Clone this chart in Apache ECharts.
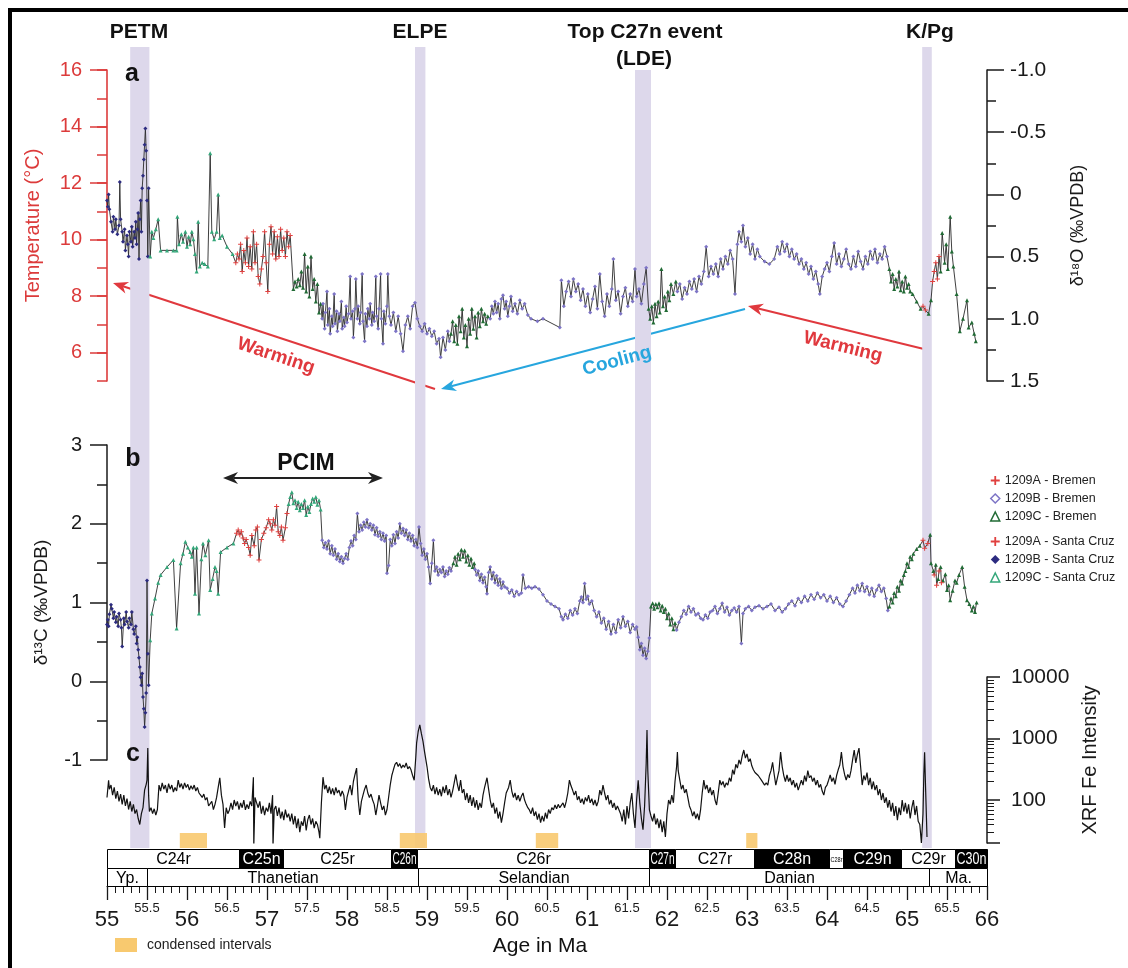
<!DOCTYPE html>
<html><head><meta charset="utf-8">
<script src="https://cdn.jsdelivr.net/npm/echarts@6/dist/echarts.min.js"></script>
<style>html,body{margin:0;padding:0;background:#fff}#c{width:1128px;height:968px}</style>
</head><body><div id="c"></div>
<script>
// ---------------- DATA ----------------
// Panel a: benthic δ18O (‰VPDB) by hole / lab  [age Ma, value]
const o18_BSC = [[55.00,0.05],[55.01,0.10],[55.02,0.00],[55.03,0.12],[55.05,0.22],[55.07,0.30],[55.08,0.18],[55.10,0.28],[55.11,0.20],[55.13,0.32],[55.15,0.25],[55.16,-0.10],[55.17,0.20],[55.19,0.30],[55.20,0.38],[55.22,0.28],[55.23,0.45],[55.25,0.33],[55.26,0.40],[55.27,0.50],[55.28,0.30],[55.30,0.38],[55.31,0.26],[55.32,0.42],[55.34,0.30],[55.35,0.35],[55.36,0.22],[55.37,0.40],[55.38,0.28],[55.39,0.15],[55.40,0.52],[55.41,0.20],[55.42,0.05],[55.43,0.30],[55.44,-0.05],[55.45,-0.15],[55.46,-0.28],[55.47,-0.40],[55.48,-0.53],[55.49,-0.35],[55.50,0.05],[55.51,0.50],[55.52,-0.05]];
const o18_CSC = [[55.54,0.50],[55.56,0.30],[55.58,0.35],[55.61,0.28],[55.64,0.20],[55.67,0.45],[55.75,0.45],[55.83,0.45],[55.87,0.45],[55.88,0.18],[55.90,0.40],[55.93,0.32],[55.95,0.38],[55.98,0.30],[56.00,0.42],[56.02,0.34],[56.04,0.40],[56.06,0.30],[56.08,0.36],[56.10,0.48],[56.12,0.62],[56.14,0.22],[56.16,0.58],[56.19,0.55],[56.22,0.56],[56.26,0.58],[56.29,-0.33],[56.31,0.30],[56.34,0.36],[56.37,0.30],[56.39,0.00],[56.41,0.35],[56.44,0.33],[56.50,0.42],[56.57,0.48]];
const o18_ASC = [[56.61,0.55],[56.63,0.48],[56.65,0.52],[56.67,0.40],[56.69,0.62],[56.71,0.45],[56.73,0.55],[56.75,0.35],[56.77,0.58],[56.79,0.42],[56.81,0.60],[56.83,0.30],[56.85,0.55],[56.87,0.40],[56.89,0.66],[56.91,0.72],[56.93,0.60],[56.95,0.50],[56.97,0.30],[56.99,0.55],[57.01,0.78],[57.03,0.40],[57.05,0.26],[57.07,0.48],[57.09,0.30],[57.11,0.52],[57.13,0.34],[57.15,0.50],[57.17,0.28],[57.19,0.45],[57.21,0.35],[57.23,0.50],[57.25,0.30],[57.27,0.42],[57.29,0.33]];
const o18_CB = [[57.33,0.76],[57.35,0.70],[57.37,0.74],[57.39,0.68],[57.41,0.73],[57.43,0.62],[57.45,0.75],[57.47,0.48],[57.49,0.78],[57.51,0.58],[57.53,0.82],[57.55,0.50],[57.57,0.76],[57.59,0.68],[57.61,0.86],[57.63,0.72],[57.65,0.95],[57.67,0.88],
 [59.30,1.12],[59.32,1.02],[59.34,1.18],[59.36,1.05],[59.38,1.20],[59.40,0.98],[59.42,1.10],[59.44,0.92],[59.46,1.15],[59.48,1.05],[59.50,1.22],[59.52,1.00],[59.54,1.12],[59.56,0.92],[59.58,1.08],[59.60,0.98],[59.62,1.15],[59.64,0.95],[59.66,1.06],[59.68,0.92],[59.70,1.02],[59.72,0.96],[59.74,1.04],[59.76,0.98],
 [61.77,0.92],[61.79,1.00],[61.81,0.90],[61.83,1.03],[61.85,0.88],[61.87,0.98],[61.89,0.86],[61.91,0.95],[61.93,0.60],[61.95,0.90],[61.97,0.82],[61.99,0.93],[62.01,0.78],[62.03,0.85],[62.05,0.72],[62.08,0.80],[62.11,0.70],
 [64.78,0.60],[64.80,0.70],[64.82,0.64],[64.84,0.76],[64.86,0.68],[64.88,0.74],[64.90,0.62],[64.92,0.77],[64.94,0.70],[64.96,0.78],[64.98,0.66],[65.00,0.75],[65.02,0.72],[65.04,0.78],[65.07,0.80],[65.12,0.86],[65.17,0.92],
 [65.27,0.96],[65.30,0.85],[65.42,0.62],[65.44,0.31],[65.47,0.55],[65.49,0.40],[65.51,0.60],[65.54,0.18],[65.56,0.46],[65.58,0.58],[65.62,0.80],[65.66,1.10],[65.70,1.00],[65.75,0.85],[65.77,1.07],[65.81,1.03],[65.84,1.12],[65.86,1.18]];
const o18_AB = [[65.20,0.90],[65.23,0.93],[65.32,0.70],[65.34,0.62],[65.36,0.55],[65.38,0.68],[65.40,0.50]];
const o18_BB = [[57.69,1.00],[57.70,0.88],[57.72,1.08],[57.73,0.95],[57.75,0.78],[57.76,1.05],[57.78,0.92],[57.79,1.12],[57.81,0.98],[57.82,1.06],[57.84,0.80],[57.85,1.04],[57.87,0.94],[57.88,1.10],[57.90,0.96],[57.91,1.02],[57.93,0.86],[57.94,1.08],[57.96,0.99],[57.97,1.06],[57.99,0.90],[58.00,1.03],[58.02,0.96],[58.04,0.66],[58.05,1.00],[58.07,0.94],[58.08,1.15],[58.10,0.92],[58.11,0.68],[58.13,1.00],[58.14,0.90],[58.16,1.04],[58.17,0.95],[58.19,0.64],[58.20,1.02],[58.22,1.18],[58.23,0.96],[58.25,1.06],[58.26,0.92],[58.28,1.00],[58.29,0.88],[58.31,1.05],[58.32,0.95],[58.34,1.02],[58.36,0.66],[58.37,0.98],[58.39,1.08],[58.40,0.92],[58.42,0.64],[58.43,1.00],[58.45,1.20],[58.46,0.94],[58.48,1.04],[58.50,0.90],[58.51,0.64],[58.53,0.98],[58.55,1.05],[58.58,0.95],[58.61,1.10],[58.64,0.98],[58.67,1.12],[58.70,1.26],[58.73,1.05],[58.76,0.98],[58.79,1.08],[58.82,0.90],[58.85,0.87],[58.88,1.00],[58.91,1.06],[58.94,1.10],[58.97,1.04],[59.00,1.12],[59.03,1.08],[59.06,1.14],[59.09,1.10],[59.12,1.20],[59.15,1.16],[59.17,1.31],[59.20,1.15],[59.23,1.25],[59.26,1.10],[59.28,1.18],
 [59.79,1.00],[59.81,0.90],[59.83,0.96],[59.85,0.86],[59.87,0.95],[59.89,0.88],[59.91,1.00],[59.93,0.84],[59.95,0.81],[59.97,0.92],[59.99,0.86],[60.01,0.98],[60.03,0.90],[60.05,0.82],[60.07,0.94],[60.10,0.88],[60.13,0.96],[60.16,0.85],[60.19,0.92],[60.22,0.88],[60.26,0.97],[60.30,1.00],[60.38,1.02],[60.45,1.00],[60.66,1.07],[60.68,0.69],[60.71,0.90],[60.74,0.78],[60.77,0.70],[60.80,0.82],[60.83,0.68],[60.86,0.78],[60.89,0.72],[60.92,0.85],[60.95,0.76],[60.98,0.90],[61.01,0.80],[61.04,0.95],[61.07,0.84],[61.10,0.74],[61.13,0.92],[61.16,0.64],[61.19,0.86],[61.22,0.98],[61.25,0.80],[61.28,0.90],[61.31,0.76],[61.33,0.52],[61.36,0.85],[61.39,0.78],[61.42,0.96],[61.45,0.82],[61.48,0.75],[61.51,0.90],[61.54,0.80],[61.57,0.86],[61.60,0.60],[61.62,0.82],[61.65,0.76],[61.68,0.88],[61.71,0.72],[61.74,0.59],
 [62.13,0.78],[62.16,0.72],[62.19,0.84],[62.22,0.75],[62.25,0.80],[62.28,0.70],[62.31,0.76],[62.34,0.68],[62.37,0.78],[62.40,0.66],[62.43,0.72],[62.46,0.62],[62.49,0.42],[62.52,0.66],[62.55,0.58],[62.58,0.64],[62.61,0.56],[62.64,0.66],[62.67,0.52],[62.70,0.60],[62.73,0.50],[62.76,0.56],[62.79,0.45],[62.82,0.52],[62.85,0.80],[62.88,0.40],[62.90,0.30],[62.93,0.38],[62.95,0.25],[62.98,0.42],[63.01,0.35],[63.04,0.48],[63.07,0.40],[63.10,0.52],[63.13,0.44],[63.16,0.50],[63.22,0.54],[63.28,0.56],[63.34,0.52],[63.38,0.42],[63.41,0.48],[63.44,0.38],[63.47,0.46],[63.50,0.40],[63.53,0.50],[63.56,0.44],[63.59,0.52],[63.62,0.48],[63.65,0.56],[63.68,0.52],[63.71,0.60],[63.74,0.55],[63.77,0.64],[63.80,0.58],[63.83,0.68],[63.86,0.62],[63.89,0.72],[63.91,0.80],[63.94,0.66],[63.97,0.60],[64.00,0.55],[64.03,0.62],[64.06,0.50],[64.09,0.39],[64.12,0.56],[64.15,0.48],[64.18,0.58],[64.21,0.52],[64.24,0.44],[64.27,0.56],[64.30,0.60],[64.33,0.50],[64.36,0.58],[64.39,0.46],[64.42,0.54],[64.45,0.60],[64.48,0.50],[64.51,0.56],[64.54,0.46],[64.57,0.52],[64.60,0.44],[64.63,0.55],[64.66,0.48],[64.69,0.52],[64.72,0.42],[64.75,0.50]];

// Panel b: benthic δ13C (‰VPDB)
const c13_BSC = [[55.00,0.72],[55.01,0.78],[55.02,0.70],[55.03,0.85],[55.05,0.97],[55.06,0.92],[55.08,0.80],[55.09,0.88],[55.11,0.75],[55.12,0.82],[55.14,0.70],[55.15,0.86],[55.17,0.78],[55.18,0.68],[55.19,0.44],[55.21,0.80],[55.22,0.72],[55.24,0.88],[55.25,0.76],[55.27,0.68],[55.28,0.80],[55.30,0.72],[55.31,0.88],[55.33,0.66],[55.34,0.60],[55.36,0.70],[55.37,0.48],[55.38,0.56],[55.39,0.40],[55.40,0.30],[55.41,0.18],[55.42,0.05],[55.43,-0.05],[55.44,0.10],[55.45,-0.20],[55.46,-0.35],[55.47,-0.58],[55.48,-0.40],[55.49,-0.15],[55.50,1.28],[55.51,0.35],[55.52,-0.05]];
const c13_CSC = [[55.54,0.52],[55.56,0.86],[55.60,1.05],[55.64,1.25],[55.67,1.35],[55.75,1.45],[55.83,1.54],[55.87,0.67],[55.92,1.50],[55.95,1.62],[55.98,1.77],[56.01,1.70],[56.04,1.64],[56.06,1.58],[56.08,1.70],[56.10,1.11],[56.12,1.70],[56.15,0.86],[56.18,1.55],[56.20,1.75],[56.23,1.60],[56.27,1.79],[56.29,1.16],[56.32,1.30],[56.35,1.45],[56.37,1.40],[56.39,1.11],[56.42,1.64],[56.50,1.70],[56.58,1.75],
 [57.27,2.25],[57.29,2.34],[57.31,2.40],[57.33,2.26],[57.35,2.30],[57.37,2.20],[57.39,2.28],[57.41,2.17],[57.43,2.25],[57.45,2.20],[57.47,2.30],[57.49,2.11],[57.51,2.22],[57.53,2.15],[57.55,2.25],[57.57,2.32],[57.59,2.28],[57.61,2.34],[57.63,2.24],[57.65,2.30],[57.67,2.18]];
const c13_ASC = [[56.62,1.88],[56.64,1.92],[56.66,1.86],[56.68,1.90],[56.70,1.82],[56.72,1.75],[56.74,1.80],[56.77,1.70],[56.79,1.60],[56.81,1.85],[56.84,1.72],[56.86,1.92],[56.88,1.96],[56.90,1.54],[56.93,1.80],[56.96,1.88],[56.99,1.95],[57.02,2.05],[57.04,2.00],[57.06,1.92],[57.08,2.05],[57.10,1.98],[57.12,2.22],[57.14,1.90],[57.16,1.85],[57.18,1.96],[57.20,1.79],[57.23,1.95],[57.25,2.13]];
const c13_CB = [[59.33,1.50],[59.35,1.58],[59.37,1.48],[59.39,1.62],[59.41,1.55],[59.43,1.67],[59.45,1.58],[59.47,1.66],[59.49,1.52],[59.51,1.60],[59.53,1.48],[59.55,1.56],[59.57,1.45],[59.59,1.50],
 [61.80,0.95],[61.82,0.99],[61.84,0.92],[61.86,0.98],[61.88,0.94],[61.90,0.99],[61.92,0.90],[61.94,0.96],[61.96,0.88],[61.98,0.92],[62.00,0.80],[62.02,0.86],[62.04,0.72],[62.06,0.80],[62.08,0.66],[62.10,0.74],
 [64.78,0.95],[64.80,1.05],[64.82,1.00],[64.84,1.12],[64.86,1.08],[64.88,1.20],[64.90,1.15],[64.92,1.28],[64.94,1.24],[64.96,1.35],[64.98,1.40],[65.00,1.50],[65.02,1.45],[65.04,1.58],[65.06,1.55],[65.08,1.62],[65.12,1.68],[65.16,1.72],
 [65.29,1.86],[65.30,1.50],[65.33,1.40],[65.36,1.48],[65.39,1.30],[65.42,1.45],[65.45,1.28],[65.48,1.36],[65.50,1.16],[65.52,1.22],[65.54,1.03],[65.57,1.15],[65.60,1.28],[65.62,1.25],[65.65,1.35],[65.69,1.45],[65.72,1.20],[65.75,1.03],[65.78,0.98],[65.81,0.90],[65.83,0.95],[65.85,0.88],[65.87,1.00]];
const c13_AB = [[65.20,1.79],[65.22,1.69],[65.26,1.75],[65.34,1.35],[65.37,1.22],[65.40,1.40],[65.43,1.25]];
const c13_BB = [[57.69,1.79],[57.71,1.70],[57.73,1.76],[57.75,1.68],[57.77,1.78],[57.79,1.62],[57.81,1.72],[57.83,1.60],[57.85,1.68],[57.87,1.55],[57.89,1.62],[57.91,1.52],[57.93,1.58],[57.95,1.50],[57.97,1.56],[57.99,1.62],[58.01,1.55],[58.03,1.70],[58.05,1.78],[58.07,1.72],[58.09,1.85],[58.11,1.80],[58.13,2.13],[58.15,1.90],[58.17,1.98],[58.19,1.92],[58.21,2.02],[58.23,1.96],[58.25,2.05],[58.27,1.95],[58.29,2.00],[58.31,1.92],[58.33,1.98],[58.35,1.86],[58.37,1.95],[58.39,1.84],[58.41,1.90],[58.43,1.80],[58.45,1.88],[58.47,1.78],[58.49,1.85],[58.50,1.37],[58.52,1.47],[58.54,1.80],[58.56,1.72],[58.58,1.86],[58.60,1.75],[58.62,1.90],[58.64,1.82],[58.66,2.00],[58.68,1.88],[58.70,1.94],[58.72,1.85],[58.74,1.92],[58.76,1.80],[58.78,1.88],[58.80,1.78],[58.82,1.85],[58.84,1.72],[58.86,1.80],[58.88,1.70],[58.90,1.96],[58.92,1.75],[58.94,1.60],[58.96,1.68],[58.98,1.55],[59.00,1.62],[59.02,1.45],[59.04,1.24],[59.06,1.50],[59.08,1.79],[59.10,1.40],[59.12,1.45],[59.14,1.35],[59.16,1.42],[59.18,1.38],[59.20,1.45],[59.22,1.33],[59.24,1.40],[59.26,1.36],[59.28,1.44],[59.30,1.40],
 [59.60,1.42],[59.62,1.35],[59.64,1.40],[59.66,1.28],[59.68,1.36],[59.70,1.25],[59.72,1.32],[59.74,1.20],[59.75,1.11],[59.77,1.38],[59.79,1.45],[59.81,1.30],[59.83,1.38],[59.85,1.25],[59.87,1.34],[59.89,1.22],[59.91,1.30],[59.93,1.18],[59.95,1.26],[59.97,1.20],[60.00,1.18],[60.03,1.12],[60.06,1.16],[60.09,1.08],[60.12,1.14],[60.15,1.10],[60.18,1.12],[60.20,1.35],[60.23,1.18],[60.27,1.20],[60.31,1.18],[60.35,1.20],[60.40,1.17],[60.45,1.10],[60.50,1.02],[60.55,0.98],[60.60,0.95],[60.65,0.92],[60.68,0.82],[60.70,0.78],[60.73,0.85],[60.76,0.80],[60.79,0.90],[60.82,0.84],[60.85,0.92],[60.88,0.86],[60.91,1.02],[60.93,1.07],[60.95,1.00],[60.97,1.24],[60.99,1.04],[61.01,1.08],[61.03,0.98],[61.06,1.02],[61.09,0.90],[61.12,0.82],[61.15,0.88],[61.18,0.74],[61.21,0.80],[61.24,0.66],[61.27,0.76],[61.30,0.60],[61.33,0.72],[61.36,0.62],[61.39,0.78],[61.42,0.68],[61.45,0.82],[61.48,0.70],[61.51,0.76],[61.54,0.62],[61.57,0.72],[61.60,0.66],[61.62,0.69],[61.64,0.56],[61.66,0.40],[61.68,0.48],[61.70,0.33],[61.72,0.42],[61.74,0.29],[61.76,0.38],[61.78,0.55],
 [62.12,0.65],[62.15,0.75],[62.18,0.82],[62.21,0.90],[62.24,0.85],[62.27,0.95],[62.30,0.88],[62.33,0.92],[62.36,0.84],[62.39,0.86],[62.42,0.80],[62.45,0.78],[62.48,0.84],[62.51,0.80],[62.54,0.88],[62.57,0.90],[62.60,0.95],[62.63,0.86],[62.66,0.92],[62.69,0.99],[62.72,0.88],[62.75,0.94],[62.78,0.84],[62.81,0.90],[62.84,0.93],[62.87,0.88],[62.90,0.95],[62.93,0.48],[62.95,0.86],[62.98,0.92],[63.02,0.95],[63.06,0.90],[63.10,0.94],[63.15,0.96],[63.20,0.92],[63.25,0.95],[63.30,0.98],[63.35,0.90],[63.40,0.94],[63.44,0.88],[63.48,0.92],[63.52,0.98],[63.56,1.02],[63.60,0.96],[63.64,1.05],[63.68,1.00],[63.72,1.08],[63.76,1.02],[63.80,1.10],[63.84,1.04],[63.88,1.12],[63.92,1.06],[63.96,1.10],[64.00,1.02],[64.04,1.08],[64.08,1.00],[64.12,1.06],[64.16,0.98],[64.20,0.95],[64.24,1.02],[64.28,1.10],[64.32,1.18],[64.35,1.12],[64.38,1.22],[64.41,1.15],[64.44,1.24],[64.47,1.14],[64.50,1.20],[64.53,1.10],[64.56,1.18],[64.59,1.08],[64.62,1.16],[64.65,1.22],[64.68,1.14],[64.71,1.18],[64.74,1.05],[64.76,0.90]];

// Panel c: XRF Fe intensity (counts)
const xrfFe = [[55.00,110],[55.02,210],[55.03,150],[55.05,175],[55.07,120],[55.09,160],[55.11,105],[55.13,140],[55.15,95],[55.17,125],[55.19,85],[55.21,120],[55.23,80],[55.25,105],[55.27,70],[55.29,95],[55.31,65],[55.33,85],[55.35,60],[55.37,70],[55.39,50],[55.41,40],[55.43,60],[55.45,75],[55.47,145],[55.49,180],[55.50,210],[55.51,700],[55.52,120],[55.53,65],[55.55,75],[55.57,60],[55.59,72],[55.61,57],[55.63,70],[55.65,175],[55.67,140],[55.69,190],[55.71,150],[55.73,175],[55.75,130],[55.77,185],[55.79,150],[55.81,175],[55.83,135],[55.85,160],[55.87,140],[55.89,210],[55.91,160],[55.93,185],[55.95,150],[55.97,190],[55.99,160],[56.01,180],[56.03,145],[56.05,170],[56.07,150],[56.09,175],[56.11,140],[56.13,160],[56.15,130],[56.17,120],[56.19,110],[56.21,125],[56.23,100],[56.25,110],[56.27,80],[56.29,75],[56.31,95],[56.33,70],[56.35,85],[56.37,110],[56.39,160],[56.41,230],[56.43,120],[56.45,85],[56.47,35],[56.49,75],[56.51,60],[56.53,69],[56.55,90],[56.57,70],[56.59,100],[56.61,80],[56.63,95],[56.65,70],[56.67,90],[56.69,75],[56.71,100],[56.73,69],[56.75,85],[56.77,72],[56.79,95],[56.81,80],[56.83,235],[56.835,18],[56.85,110],[56.87,90],[56.89,75],[56.91,95],[56.93,60],[56.95,80],[56.97,57],[56.99,75],[57.01,65],[57.03,90],[57.05,60],[57.07,120],[57.075,18],[57.09,70],[57.11,80],[57.13,55],[57.15,75],[57.17,50],[57.19,65],[57.21,47],[57.23,70],[57.25,52],[57.27,60],[57.29,45],[57.31,60],[57.33,40],[57.35,55],[57.37,35],[57.39,50],[57.41,30],[57.43,45],[57.45,38],[57.47,55],[57.49,32],[57.51,48],[57.53,57],[57.55,40],[57.57,50],[57.59,35],[57.61,45],[57.63,40],[57.65,30],[57.66,24],[57.68,90],[57.70,235],[57.72,150],[57.74,175],[57.76,130],[57.78,165],[57.80,125],[57.82,155],[57.84,120],[57.86,160],[57.88,130],[57.90,145],[57.92,115],[57.94,140],[57.96,120],[57.98,69],[58.00,110],[58.02,140],[58.04,175],[58.06,120],[58.08,200],[58.10,260],[58.12,330],[58.14,100],[58.16,57],[58.18,95],[58.20,120],[58.22,150],[58.24,175],[58.26,130],[58.28,110],[58.30,125],[58.32,100],[58.34,85],[58.36,57],[58.38,80],[58.40,120],[58.42,90],[58.44,69],[58.46,80],[58.48,57],[58.50,70],[58.52,110],[58.54,175],[58.56,250],[58.58,310],[58.60,380],[58.62,410],[58.64,350],[58.66,390],[58.68,330],[58.70,370],[58.72,340],[58.74,400],[58.76,320],[58.78,350],[58.80,310],[58.82,250],[58.84,210],[58.86,500],[58.87,840],[58.89,1300],[58.91,1660],[58.93,1200],[58.95,900],[58.97,600],[59.00,350],[59.02,220],[59.04,160],[59.06,140],[59.08,175],[59.10,125],[59.12,160],[59.14,120],[59.16,150],[59.18,115],[59.20,165],[59.22,130],[59.24,175],[59.26,120],[59.28,150],[59.30,110],[59.32,140],[59.34,190],[59.36,260],[59.38,180],[59.40,140],[59.42,210],[59.44,130],[59.46,150],[59.48,100],[59.50,130],[59.52,90],[59.54,120],[59.56,80],[59.58,110],[59.60,75],[59.62,100],[59.64,69],[59.66,90],[59.68,75],[59.70,120],[59.72,160],[59.75,230],[59.77,150],[59.79,100],[59.81,75],[59.83,90],[59.85,60],[59.87,75],[59.89,50],[59.91,65],[59.93,43],[59.95,60],[59.97,90],[59.99,130],[60.02,160],[60.04,210],[60.06,140],[60.08,110],[60.10,130],[60.12,100],[60.14,120],[60.16,95],[60.18,115],[60.20,130],[60.22,100],[60.24,85],[60.26,75],[60.28,69],[60.30,60],[60.32,75],[60.34,55],[60.36,65],[60.38,48],[60.40,60],[60.42,43],[60.44,55],[60.46,45],[60.48,62],[60.50,50],[60.52,70],[60.54,60],[60.56,75],[60.58,69],[60.60,83],[60.62,72],[60.64,85],[60.66,75],[60.68,80],[60.70,90],[60.72,75],[60.74,95],[60.76,130],[60.78,210],[60.80,170],[60.82,145],[60.84,120],[60.86,140],[60.88,100],[60.90,115],[60.92,90],[60.94,105],[60.96,85],[60.98,110],[61.00,95],[61.02,120],[61.04,90],[61.06,105],[61.08,83],[61.10,100],[61.12,80],[61.14,95],[61.16,145],[61.18,120],[61.20,175],[61.22,130],[61.24,100],[61.26,120],[61.28,85],[61.30,100],[61.32,75],[61.34,90],[61.36,69],[61.38,80],[61.42,60],[61.44,45],[61.46,70],[61.48,40],[61.50,80],[61.52,50],[61.54,90],[61.56,130],[61.58,60],[61.60,35],[61.62,100],[61.64,210],[61.66,90],[61.68,50],[61.70,33],[61.72,80],[61.74,400],[61.75,1370],[61.76,300],[61.78,69],[61.80,55],[61.82,45],[61.84,60],[61.86,40],[61.88,50],[61.90,35],[61.92,48],[61.94,30],[61.96,45],[61.98,25],[62.00,60],[62.02,100],[62.04,85],[62.06,120],[62.08,90],[62.10,200],[62.12,350],[62.13,600],[62.14,300],[62.16,210],[62.18,150],[62.20,175],[62.22,130],[62.24,150],[62.26,110],[62.28,80],[62.30,69],[62.32,55],[62.34,65],[62.36,50],[62.38,60],[62.40,47],[62.42,70],[62.44,130],[62.46,210],[62.48,150],[62.50,175],[62.52,130],[62.54,160],[62.56,120],[62.58,145],[62.60,100],[62.62,83],[62.64,130],[62.66,210],[62.68,175],[62.70,200],[62.72,160],[62.74,190],[62.76,175],[62.78,230],[62.80,200],[62.82,310],[62.84,260],[62.86,380],[62.88,330],[62.90,450],[62.92,380],[62.94,520],[62.96,650],[62.98,480],[63.00,560],[63.02,420],[63.04,470],[63.06,360],[63.08,310],[63.10,280],[63.12,300],[63.14,250],[63.16,255],[63.18,210],[63.20,200],[63.22,175],[63.24,190],[63.26,175],[63.28,250],[63.30,300],[63.32,410],[63.34,260],[63.36,175],[63.38,230],[63.40,300],[63.42,600],[63.44,350],[63.46,250],[63.48,200],[63.50,255],[63.52,200],[63.54,230],[63.56,175],[63.58,210],[63.60,160],[63.62,190],[63.64,145],[63.66,175],[63.68,210],[63.70,175],[63.72,250],[63.74,200],[63.76,300],[63.78,230],[63.80,250],[63.82,200],[63.84,230],[63.86,175],[63.88,210],[63.90,160],[63.92,180],[63.94,140],[63.96,120],[63.98,160],[64.00,175],[64.02,210],[64.04,255],[64.06,200],[64.08,230],[64.10,180],[64.12,250],[64.14,310],[64.16,370],[64.18,600],[64.20,350],[64.22,260],[64.24,210],[64.26,260],[64.28,230],[64.30,300],[64.32,450],[64.34,650],[64.36,400],[64.38,550],[64.40,700],[64.42,350],[64.44,175],[64.46,250],[64.48,210],[64.50,280],[64.52,175],[64.54,230],[64.56,150],[64.58,200],[64.60,145],[64.62,175],[64.64,120],[64.66,150],[64.68,100],[64.70,130],[64.72,90],[64.74,110],[64.76,75],[64.78,100],[64.80,65],[64.82,90],[64.84,55],[64.86,80],[64.88,47],[64.90,75],[64.92,57],[64.94,100],[64.96,65],[64.98,90],[65.00,60],[65.02,85],[65.04,50],[65.06,75],[65.08,100],[65.10,57],[65.12,80],[65.14,45],[65.16,40],[65.18,20],[65.20,60],[65.21,250],[65.22,600],[65.23,200],[65.25,25]];

// Event bands [start, end] (Ma) and condensed intervals
const eventNames = ['PETM', 'ELPE', 'LDE', 'K/Pg'];
const eventStart = [55.29, 58.85, 61.60, 65.19];
const eventEnd   = [55.53, 58.98, 61.80, 65.31];
const condStart = [55.91, 58.66, 60.36, 62.99];
const condEnd   = [56.25, 59.00, 60.64, 63.13];

// Magnetochrons and stages
const chronNames  = ['C24r','C25n','C25r','C26n','C26r','C27n','C27r','C28n','C28r','C29n','C29r','C30n'];
const chronStart  = [55.00,56.65,57.20,58.55,58.88,61.78,62.10,63.09,64.03,64.20,64.92,65.60];
const chronEnd    = [56.65,57.20,58.55,58.88,61.78,62.10,63.09,64.03,64.20,64.92,65.60,66.00];
const chronNormal = [0,1,0,1,0,1,0,1,0,1,0,1];
const stageNames = ['Yp.','Thanetian','Selandian','Danian','Ma.'];
const stageStart = [55.00,55.50,58.89,61.78,65.28];
const stageEnd   = [55.50,58.89,61.78,65.28,66.00];

// Axis tick labels
const tempTicks = [6,8,10,12,14,16];
const xrfTicks = [100,1000,10000];
const xrfMinorTicks = [30,40,50,60,70,80,90,200,300,400,500,600,700,800,900,2000,3000,4000,5000,6000,7000,8000,9000];

// ---------------- CHART ----------------
const FONT = '"Liberation Sans", Arial, Helvetica, sans-serif';
const RED = '#dc3b3b';
const INK = '#1a1a1a';
const COL = {AB:'#e0403f', ASC:'#e0403f', BB:'#7d74c6', BSC:'#2c2b80', CB:'#216b35', CSC:'#34a77a'};
const PLUS = 'path://M4,0h2v4h4v2h-4v4h-2v-4h-4v-2h4z';

const chart = echarts.init(document.getElementById('c'), null, {renderer:'canvas', width:1128, height:968});

const byAge = (a,b)=>a[0]-b[0];
const o18All = [].concat(o18_BSC,o18_CSC,o18_ASC,o18_CB,o18_AB,o18_BB).sort(byAge);
const c13All = [].concat(c13_BSC,c13_CSC,c13_ASC,c13_CB,c13_AB,c13_BB).sort(byAge);

const measureCtx = document.createElement('canvas').getContext('2d');
function textW(t, fs){ measureCtx.font = fs+'px '+FONT; return measureCtx.measureText(t).width; }

function renderBar(names, normals, rowLo, rowHi){
  return function(params, api){
    const s = api.value(0), e = api.value(1);
    const p0 = api.coord([s, rowHi]), p1 = api.coord([e, rowLo]);
    const x0 = Math.round(p0[0])+0.5, x1 = Math.round(p1[0])+0.5, y0 = Math.round(p0[1])+0.5, y1 = Math.round(p1[1])+0.5;
    const w = x1-x0, h = y1-y0;
    const black = normals ? normals[params.dataIndex] === 1 : false;
    const name = names[params.dataIndex];
    let fs = 16; let tw = textW(name, fs); let sx = Math.min(1, (w-2)/tw);
    if (sx < 0.55) { fs = 8; tw = textW(name, fs); sx = Math.min(1, (w-2)/tw); }
    return {type:'group', children:[
      {type:'rect', shape:{x:x0,y:y0,width:w,height:h}, style:{fill: black ? '#000' : '#fff', stroke:'#000', lineWidth:1}},
      {type:'text', x:(x0+x1)/2, y:(y0+y1)/2+1, scaleX:sx, style:{text:name, fill: black ? '#fff' : '#000', font: fs+'px '+FONT, align:'center', verticalAlign:'middle'}}
    ]};
  };
}

function scatter(name, data, xi, yi, sym, size, color){
  return {type:'scatter', name, data, xAxisIndex:xi, yAxisIndex:yi, symbol:sym, symbolSize:size,
    itemStyle:{color, opacity:1}, z:4, silent:true};
}

function arrowEls(x1,y1,x2,y2,color,w,hl,hw,dbl){
  const dx=x2-x1, dy=y2-y1, L=Math.hypot(dx,dy), ux=dx/L, uy=dy/L, px=-uy, py=ux;
  const sx = dbl ? x1+ux*hl*0.7 : x1, sy = dbl ? y1+uy*hl*0.7 : y1;
  const els = [{type:'line', shape:{x1:sx,y1:sy,x2:x2-ux*hl*0.7,y2:y2-uy*hl*0.7}, style:{stroke:color, lineWidth:w}}];
  const head = (tx,ty,vx,vy)=>({type:'polygon', shape:{points:[[tx,ty],[tx-vx*hl+px*hw,ty-vy*hl+py*hw],[tx-vx*hl*0.7,ty-vy*hl*0.7],[tx-vx*hl-px*hw,ty-vy*hl-py*hw]]}, style:{fill:color}});
  els.push(head(x2,y2,ux,uy));
  if (dbl) els.push(head(x1,y1,-ux,-uy));
  return els;
}

function txt(t, x, y, size, opts){
  opts = opts || {};
  return {type:'text', x, y, rotation: opts.rot || 0, z:50,
    style:{text:t, fill: opts.color || '#111', font: (opts.bold ? 'bold ' : '') + size + 'px ' + FONT, align: opts.align || 'center', verticalAlign:'middle'}};
}

const G = {left:107, right:141, outerBoundsMode:'none'};
const hiddenX = (gi)=>({gridIndex:gi, type:'value', min:55, max:66, show:false});

const option = {
  animation:false,
  backgroundColor:'#fff',
  textStyle:{fontFamily:FONT},
  grid:[
    Object.assign({top:70, height:311}, G),   // 0 panel a
    Object.assign({top:445, height:315}, G),  // 1 panel b
    Object.assign({top:677, height:166}, G),  // 2 panel c
    Object.assign({top:849, height:37}, G),   // 3 chron/stage bars + age axis
    Object.assign({top:47, height:801}, G),   // 4 backdrop bands
    Object.assign({top:70, height:282.7}, G)  // 5 temperature labels (6-16)
  ],
  xAxis:[
    hiddenX(0), hiddenX(1), hiddenX(2),
    {gridIndex:3, type:'value', min:55, max:66, interval:0.5, position:'bottom',
     axisLine:{show:true, lineStyle:{color:INK, width:1}},
     axisTick:{show:true, length:14, lineStyle:{color:INK, width:1.3}},
     minorTick:{show:true, splitNumber:5, length:7, lineStyle:{color:INK, width:1}},
     splitLine:{show:false},
     axisLabel:{margin:16, showMinLabel:true, showMaxLabel:true, hideOverlap:false,
       formatter:(v)=> (Math.abs(v - Math.round(v)) < 1e-6 ? '{b|'+Math.round(v)+'}' : '{s|'+v.toFixed(1)+'}'),
       rich:{b:{fontSize:22, color:INK, padding:[7,0,0,0]}, s:{fontSize:13, color:INK}}}},
    hiddenX(4), hiddenX(5)
  ],
  yAxis:[
    {gridIndex:0, type:'value', min:5, max:16, interval:1, position:'left',
     axisLine:{show:true, lineStyle:{color:RED, width:1.6}}, axisTick:{show:true, length:10, lineStyle:{color:RED, width:1.5}},
     axisLabel:{show:false}, splitLine:{show:false},
     name:'Temperature (°C)', nameLocation:'middle', nameGap:64, nameRotate:90, nameTextStyle:{color:RED, fontSize:20, fontFamily:FONT}},
    {gridIndex:0, type:'value', min:-1, max:1.5, interval:0.5, inverse:true, position:'right',
     axisLine:{show:true, lineStyle:{color:INK, width:1.5}}, axisTick:{show:true, length:17, lineStyle:{color:INK, width:1.5}},
     minorTick:{show:true, splitNumber:2, length:9, lineStyle:{color:INK, width:1.5}},
     axisLabel:{margin:23, fontSize:21, color:INK, formatter:(v)=> Math.abs(v)<1e-9 ? '0' : v.toFixed(1)},
     splitLine:{show:false}, minorSplitLine:{show:false},
     name:'δ¹⁸O (‰VPDB)', nameLocation:'middle', nameGap:82, nameRotate:90, nameTextStyle:{color:INK, fontSize:18, fontFamily:FONT}},
    {gridIndex:1, type:'value', min:-1, max:3, interval:1, position:'left',
     axisLine:{show:true, lineStyle:{color:INK, width:1.5}}, axisTick:{show:true, length:17, lineStyle:{color:INK, width:1.5}},
     minorTick:{show:true, splitNumber:2, length:10, lineStyle:{color:INK, width:1.5}},
     axisLabel:{margin:25, fontSize:20, color:INK}, splitLine:{show:false}, minorSplitLine:{show:false},
     name:'δ¹³C (‰VPDB)', nameLocation:'middle', nameGap:56, nameRotate:90, nameTextStyle:{color:INK, fontSize:19, fontFamily:FONT}},
    {gridIndex:2, type:'log', logBase:10, min:20, max:10000, splitNumber:3, position:'right',
     axisLine:{show:true, lineStyle:{color:INK, width:1.5}}, axisTick:{show:true, length:13, lineStyle:{color:INK, width:1.5}},
     axisLabel:{margin:24, fontSize:21, color:INK, formatter:(v)=>{ const r=Math.round(v); return xrfTicks.indexOf(r)>=0 ? String(r) : ''; }},
     splitLine:{show:false},
     name:'XRF Fe Intensity', nameLocation:'middle', nameGap:78, nameRotate:90, nameTextStyle:{color:INK, fontSize:20, fontFamily:FONT}},
    {gridIndex:3, type:'value', min:0, max:2, show:false},
    {gridIndex:4, type:'value', min:0, max:801, show:false},
    {gridIndex:5, type:'value', min:6, max:16, interval:2, position:'left',
     axisLine:{show:false}, axisTick:{show:true, length:17, lineStyle:{color:RED, width:1.5}},
     axisLabel:{margin:25, fontSize:20, color:RED, formatter:(v)=> tempTicks.indexOf(v)>=0 ? String(v) : ''}, splitLine:{show:false}}
  ],
  legend:[
    {left:985, top:469, orient:'vertical', itemGap:5, itemWidth:9, itemHeight:9, selectedMode:false,
     textStyle:{fontSize:12.5, color:'#222', fontFamily:FONT},
     data:[{name:'1209A - Bremen', icon:PLUS, itemStyle:{color:COL.AB}},
           {name:'1209B - Bremen', icon:'diamond', itemStyle:{color:'#fff', borderColor:COL.BB, borderWidth:1.5}},
           {name:'1209C - Bremen', icon:'triangle', itemStyle:{color:'#fff', borderColor:COL.CB, borderWidth:1.5}}]},
    {left:985, top:530, orient:'vertical', itemGap:5, itemWidth:9, itemHeight:9, selectedMode:false,
     textStyle:{fontSize:12.5, color:'#222', fontFamily:FONT},
     data:[{name:'1209A - Santa Cruz', icon:PLUS, itemStyle:{color:COL.ASC}},
           {name:'1209B - Santa Cruz', icon:'diamond', itemStyle:{color:COL.BSC}},
           {name:'1209C - Santa Cruz', icon:'triangle', itemStyle:{color:'#fff', borderColor:COL.CSC, borderWidth:1.5}}]}
  ],
  series:[
    {type:'custom', name:'events', xAxisIndex:4, yAxisIndex:5, z:1, silent:true,
     data: eventNames.map((n,i)=>[eventStart[i], eventEnd[i], n === 'LDE' ? 778 : 801]),
     renderItem:(params, api)=>{ const p0=api.coord([api.value(0), api.value(2)]), p1=api.coord([api.value(1), 0]);
       return {type:'rect', shape:{x:p0[0], y:p0[1], width:p1[0]-p0[0], height:p1[1]-p0[1]}, style:{fill:'#ddd8eb'}}; }},
    {type:'custom', name:'condensed', xAxisIndex:4, yAxisIndex:5, z:2, silent:true,
     data: condStart.map((s,i)=>[s, condEnd[i]]),
     renderItem:(params, api)=>{ const p0=api.coord([api.value(0), 15]), p1=api.coord([api.value(1), 0]);
       return {type:'rect', shape:{x:p0[0], y:p0[1], width:p1[0]-p0[0], height:p1[1]-p0[1]}, style:{fill:'#f8c96f', opacity:0.9}}; }},
    // minor ticks (2..9 per decade) of the XRF log axis
    {type:'custom', name:'xrfMinor', xAxisIndex:2, yAxisIndex:3, z:5, silent:true, clip:false,
     data: xrfMinorTicks.map(v=>[66, v]),
     renderItem:(params, api)=>{ const p=api.coord([api.value(0), api.value(1)]); const y=Math.round(p[1])+0.5;
       return {type:'line', shape:{x1:p[0], y1:y, x2:p[0]+7, y2:y}, style:{stroke:INK, lineWidth:1}}; }},
    // Panel a
    {type:'line', name:'δ18O', data:o18All, xAxisIndex:0, yAxisIndex:1, showSymbol:false, symbol:'none', z:3, silent:true,
     lineStyle:{color:'#2a2a2a', width:0.9}},
    scatter('1209B - Santa Cruz', o18_BSC, 0, 1, 'diamond', 4, COL.BSC),
    scatter('1209C - Santa Cruz', o18_CSC, 0, 1, 'triangle', 4, COL.CSC),
    scatter('1209A - Santa Cruz', o18_ASC, 0, 1, PLUS, 5, COL.ASC),
    scatter('1209C - Bremen', o18_CB, 0, 1, 'triangle', 4, COL.CB),
    scatter('1209A - Bremen', o18_AB, 0, 1, PLUS, 5, COL.AB),
    scatter('1209B - Bremen', o18_BB, 0, 1, 'diamond', 4, COL.BB),
    // Panel b
    {type:'line', name:'δ13C', data:c13All, xAxisIndex:1, yAxisIndex:2, showSymbol:false, symbol:'none', z:3, silent:true,
     lineStyle:{color:'#2a2a2a', width:0.9}},
    scatter('1209B - Santa Cruz', c13_BSC, 1, 2, 'diamond', 4, COL.BSC),
    scatter('1209C - Santa Cruz', c13_CSC, 1, 2, 'triangle', 4, COL.CSC),
    scatter('1209A - Santa Cruz', c13_ASC, 1, 2, PLUS, 5, COL.ASC),
    scatter('1209C - Bremen', c13_CB, 1, 2, 'triangle', 4, COL.CB),
    scatter('1209A - Bremen', c13_AB, 1, 2, PLUS, 5, COL.AB),
    scatter('1209B - Bremen', c13_BB, 1, 2, 'diamond', 4, COL.BB),
    // Panel c
    {type:'line', name:'XRF Fe', data:xrfFe, xAxisIndex:2, yAxisIndex:3, showSymbol:false, symbol:'none', z:3, silent:true,
     lineStyle:{color:'#111', width:1.2}},
    // Bars
    {type:'custom', name:'chrons', xAxisIndex:3, yAxisIndex:4, z:5, silent:true,
     data: chronNames.map((n,i)=>[chronStart[i], chronEnd[i]]), renderItem: renderBar(chronNames, chronNormal, 1, 2)},
    {type:'custom', name:'stages', xAxisIndex:3, yAxisIndex:4, z:5, silent:true,
     data: stageNames.map((n,i)=>[stageStart[i], stageEnd[i]]), renderItem: renderBar(stageNames, null, 0, 1)}
  ],
  graphic:[].concat(
    [{type:'rect', shape:{x:10, y:10, width:1140, height:1000}, style:{fill:null, stroke:'#000', lineWidth:4}, z:60}],
    [txt('PETM',139,32,21,{bold:true}), txt('ELPE',420,32,21,{bold:true}), txt('Top C27n event',645,32,21,{bold:true}),
     txt('(LDE)',644,59,21,{bold:true}), txt('K/Pg',930,32,21,{bold:true}),
     txt('a',132,74,25,{bold:true}), txt('b',133,459,25,{bold:true}), txt('c',133,754,25,{bold:true}),
     txt('PCIM',306,464,23,{bold:true}),
     txt('Warming',276,356,19,{bold:true, color:'#e0393e', rot:-0.32}),
     txt('Cooling',617,361,19,{bold:true, color:'#27a6de', rot:0.26}),
     txt('Warming',843,347,19,{bold:true, color:'#e0393e', rot:-0.24}),
     txt('Age in Ma',540,946,21,{}),
     txt('condensed intervals',147,945,14,{align:'left', color:'#222'}),
     {type:'rect', shape:{x:115, y:938, width:22, height:14}, style:{fill:'#f8c96f'}, z:50}],
    arrowEls(435,389,113,283,'#e0393e',2,15,6,false),
    arrowEls(745,309,441,389,'#27a6de',2,15,6,false),
    arrowEls(928,350,748,306,'#e0393e',2,15,6,false),
    arrowEls(223,478,383,478,'#222',2.2,15,6,true)
  )
};
chart.setOption(option);
</script></body></html>
